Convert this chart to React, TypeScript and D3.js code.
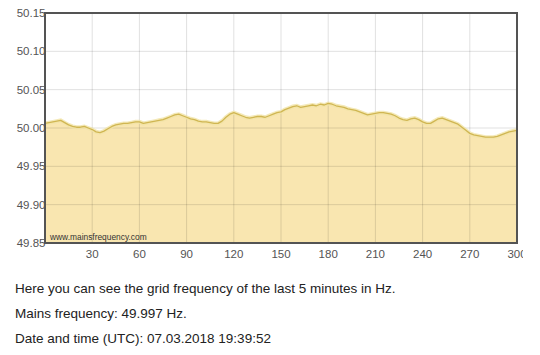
import React from "react";
import * as d3 from "d3";

const seconds = [
  0, 2.5, 5, 7.5, 10, 12.5, 15, 17.5, 20, 22.5, 25, 27.5, 30, 32.5, 35, 37.5, 40, 42.5, 45, 47.5,
  50, 52.5, 55, 57.5, 60, 62.5, 65, 67.5, 70, 72.5, 75, 77.5, 80, 82.5, 85, 87.5, 90, 92.5, 95, 97.5,
  100, 102.5, 105, 107.5, 110, 112.5, 115, 117.5, 120, 122.5, 125, 127.5, 130, 132.5, 135, 137.5, 140, 142.5, 145, 147.5,
  150, 152.5, 155, 157.5, 160, 162.5, 165, 167.5, 170, 172.5, 175, 177.5, 180, 182.5, 185, 187.5, 190, 192.5, 195, 197.5,
  200, 202.5, 205, 207.5, 210, 212.5, 215, 217.5, 220, 222.5, 225, 227.5, 230, 232.5, 235, 237.5, 240, 242.5, 245, 247.5,
  250, 252.5, 255, 257.5, 260, 262.5, 265, 267.5, 270, 272.5, 275, 277.5, 280, 282.5, 285, 287.5, 290, 292.5, 295, 297.5,
  300,
];
const frequency = [
  50.006, 50.007, 50.008, 50.009, 50.010, 50.007, 50.004, 50.002, 50.001, 50.001,
  50.002, 50.000, 49.998, 49.995, 49.994, 49.996, 49.999, 50.002, 50.004, 50.005,
  50.006, 50.006, 50.007, 50.008, 50.008, 50.006, 50.007, 50.008, 50.009, 50.010,
  50.011, 50.013, 50.015, 50.017, 50.018, 50.016, 50.014, 50.012, 50.011, 50.009,
  50.008, 50.008, 50.007, 50.006, 50.006, 50.009, 50.014, 50.018, 50.020, 50.018,
  50.016, 50.014, 50.013, 50.014, 50.015, 50.015, 50.014, 50.016, 50.018, 50.020,
  50.021, 50.024, 50.026, 50.028, 50.029, 50.027, 50.028, 50.029, 50.030, 50.029,
  50.031, 50.030, 50.032, 50.031, 50.029, 50.028, 50.027, 50.025, 50.024, 50.023,
  50.021, 50.019, 50.017, 50.018, 50.019, 50.020, 50.020, 50.019, 50.018, 50.016,
  50.013, 50.011, 50.010, 50.012, 50.013, 50.011, 50.008, 50.006, 50.006, 50.009,
  50.012, 50.013, 50.011, 50.009, 50.007, 50.005, 50.001, 49.997, 49.993, 49.991,
  49.990, 49.989, 49.988, 49.988, 49.988, 49.989, 49.991, 49.993, 49.995, 49.996,
  49.997,
];
const yTicks = [49.85, 49.9, 49.95, 50.0, 50.05, 50.1, 50.15];
const xTicks = [30, 60, 90, 120, 150, 180, 210, 240, 270, 300];
const infoLines = [
  "Here you can see the grid frequency of the last 5 minutes in Hz.",
  "Mains frequency: 49.997 Hz.",
  "Date and time (UTC): 07.03.2018 19:39:52",
];
const watermark = "www.mainsfrequency.com";

export default function App() {
  const W = 540;
  const H = 355;
  const left = 45, right = 517, top = 13, bottom = 243;
  const x = d3.scaleLinear().domain([0, 300]).range([left, right]);
  const y = d3.scaleLinear().domain([49.85, 50.15]).range([bottom, top]);
  const data = seconds.map((s, i) => ({ s, v: frequency[i] }));
  const area = d3
    .area<{ s: number; v: number }>()
    .x((d) => x(d.s))
    .y0(y(49.85))
    .y1((d) => y(d.v));
  const line = d3
    .line<{ s: number; v: number }>()
    .x((d) => x(d.s))
    .y((d) => y(d.v));
  const font = "'Liberation Sans', Arial, sans-serif";
  return (
    <div style={{ position: "absolute", left: 0, top: 0 }}>
      <svg width={W} height={H} style={{ display: "block", background: "#fff" }}>
        <defs>
          <clipPath id="xclip">
            <rect x={0} y={0} width={523} height={H} />
          </clipPath>
        </defs>
        {yTicks.map((t) => (
          <text
            key={t}
            x={left + 0.5}
            y={y(t)}
            dy="0.35em"
            textAnchor="end"
            fontFamily={font}
            fontSize={11.5}
            fill="#545454"
          >
            {t.toFixed(2)}
          </text>
        ))}
        <rect x={left} y={top} width={right - left} height={bottom - top} fill="#fff" />
        <path d={area(data) ?? ""} fill="#F9E6B0" />
        {xTicks.map((t) => (
          <line key={t} x1={x(t)} x2={x(t)} y1={top} y2={bottom} stroke="#000" strokeOpacity={0.12} />
        ))}
        {yTicks.map((t) => (
          <line key={t} x1={left} x2={right} y1={y(t)} y2={y(t)} stroke="#000" strokeOpacity={0.12} />
        ))}
        <path d={line(data) ?? ""} fill="none" stroke="#F1E3A6" strokeWidth={4} strokeOpacity={0.8} />
        <path d={line(data) ?? ""} fill="none" stroke="#D0B652" strokeWidth={1.3} strokeLinejoin="round" />
        <rect
          x={left}
          y={top}
          width={right - left}
          height={bottom - top}
          fill="none"
          stroke="#545454"
          strokeWidth={2}
        />
        <text x={50} y={240} fontFamily={font} fontSize={8.4} fill="#333">
          {watermark}
        </text>
        <g clipPath="url(#xclip)">
          {xTicks.map((t) => (
            <text
              key={t}
              x={x(t)}
              y={254}
              dy="0.35em"
              textAnchor="middle"
              fontFamily={font}
              fontSize={11.5}
              fill="#545454"
            >
              {t}
            </text>
          ))}
        </g>
        {infoLines.map((s, i) => (
          <text
            key={i}
            x={15}
            y={288 + i * 25}
            dy="0.35em"
            fontFamily={font}
            fontSize={13.5}
            fill="#222"
          >
            {s}
          </text>
        ))}
      </svg>
    </div>
  );
}
